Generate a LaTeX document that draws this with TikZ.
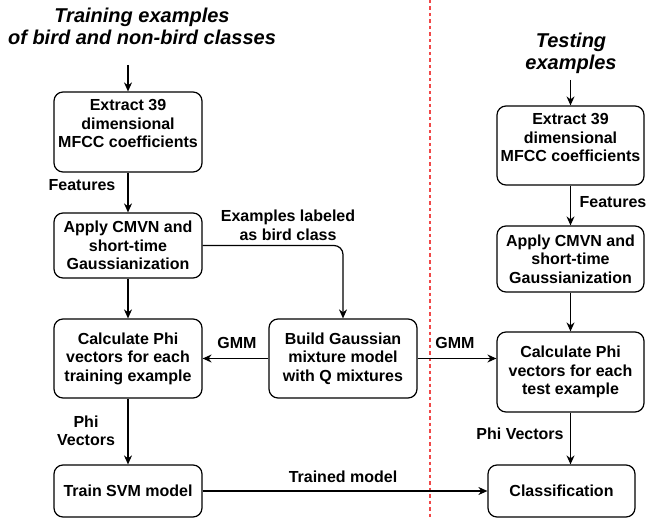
\documentclass[tikz,border=0pt]{standalone}
\usepackage{fontspec}
\setmainfont{Liberation Sans}
\usetikzlibrary{arrows.meta}
\definecolor{divider}{HTML}{F04848}
\begin{document}
\begin{tikzpicture}[x=1pt,y=-1pt,
  box/.style={draw, line width=1.2pt, rounded corners=9pt, inner sep=0pt,
    font=\fontsize{16}{18.5}\selectfont\bfseries, align=center},
  txt/.style={font=\fontsize{16}{18.5}\selectfont\bfseries, align=center, inner sep=0pt},
  lbl/.style={font=\fontsize{16}{18.5}\selectfont\bfseries, align=center, inner sep=0pt},
  ttl/.style={font=\fontsize{20}{22}\selectfont\bfseries\itshape, align=center, inner sep=0pt},
  link/.style={draw, line width=1.2pt, -{Stealth[length=9pt,width=8pt]}},
]
\useasboundingbox (0,0) rectangle (652,518);

% divider between training and testing
\draw[divider, line width=1.1pt, dash pattern=on 3.5pt off 3pt] (430,0) -- (430,518);

% titles
\node[ttl] (tt1) at (142,26) {Training examples\\of bird and non-bird classes};
\node[ttl] (tt2) at (571,53) {Testing\\examples};
\coordinate (s1) at (128,65);
\coordinate (s2) at (570.5,80);

% training column
\node[box, minimum width=148pt, minimum height=80pt] (e1) at (128,132) {};
\node[txt] (e1t) at (128,123.5) {Extract 39\\dimensional\\MFCC coefficients};
\node[box, minimum width=148pt, minimum height=65pt] (c1) at (128,245.5) {Apply CMVN and\\short-time\\Gaussianization};
\node[box, minimum width=148pt, minimum height=79pt] (p1) at (128,358.5) {Calculate Phi\\vectors for each\\training example};
\node[box, minimum width=148pt, minimum height=52pt] (t1) at (128,491) {Train SVM model};

% model building
\node[box, minimum width=148pt, minimum height=79pt] (g) at (343,358.5) {Build Gaussian\\mixture model\\with Q mixtures};

% testing column
\node[box, minimum width=147pt, minimum height=79pt] (e2) at (570.5,145.5) {};
\node[txt] (e2t) at (570.5,137.5) {Extract 39\\dimensional\\MFCC coefficients};
\node[box, minimum width=147pt, minimum height=66pt] (c2) at (570.5,259) {Apply CMVN and\\short-time\\Gaussianization};
\node[box, minimum width=147pt, minimum height=80pt] (p2) at (570.5,372) {Calculate Phi\\vectors for each\\test example};
\node[box, minimum width=147pt, minimum height=52pt] (cl) at (561.5,491) {Classification};

% connectors
\draw[link] (s1) -- (e1);
\draw[link] (e1) -- (c1);
\draw[link] (c1) -- (p1);
\draw[link] (p1) -- (t1);
\draw[link] (g) -- (p1);
\draw[link, rounded corners=9pt] (c1.east) -| (g.north);
\draw[link] (g.east) -- (g.east -| p2.west);
\draw[link] (t1) -- (cl);
\draw[link] (s2) -- (e2);
\draw[link] (e2) -- (c2);
\draw[link] (c2) -- (p2);
\draw[link] (p2.south) -- (p2.south |- cl.north);

% connector labels
\node[lbl] (f1) at (82,185) {Features};
\node[lbl] (ex) at (288,225.5) {Examples labeled\\as bird class};
\node[lbl] (gm1) at (237,343) {GMM};
\node[lbl] (gm2) at (455,343) {GMM};
\node[lbl] (pv1) at (86,431) {Phi\\Vectors};
\node[lbl] (tm) at (343,477) {Trained model};
\node[lbl] (f2) at (613,202) {Features};
\node[lbl] (pv2) at (520,434) {Phi Vectors};
\end{tikzpicture}
\end{document}
